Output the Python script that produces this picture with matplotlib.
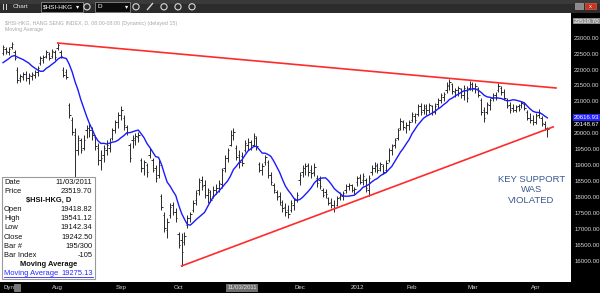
import matplotlib
matplotlib.use("Agg")
import matplotlib.pyplot as plt
import matplotlib.patches as mpatches
import matplotlib.transforms as mtransforms
import numpy as np

plt.rcParams["font.family"] = ["Liberation Sans", "DejaVu Sans"]

# ---- data: daily OHLC of $HSI-HKG (bar index 0 = first visible day) ----
warmup_closes = [21950, 22020, 22080, 22100, 22150, 22200, 22250, 22300, 22380]

highs = [22770, 22710, 22710, 22860, 22610, 22080, 21860, 21920, 21950, 21890,
         21920, 21990, 22110, 22420, 22460, 22610, 22550, 22640, 22610, 22830,
         22610, 22080, 22020, 20950, 20510, 20170, 19950, 19850, 19950, 20260,
         20290, 20200, 19950, 19700, 19480, 19630, 19790, 19850, 20170, 20420,
         20670, 20860, 20570, 20260, 19700, 19950, 20010, 20040, 19230, 19160,
         19070, 19540, 19230, 19010, 19160, 18100, 17530, 17350, 17820, 17850,
         17660, 16910, 16880, 16910, 17440, 17530, 17910, 18220, 18600, 18660,
         18540, 18290, 18220, 18350, 18410, 18540, 18910, 19320, 19540, 20100,
         20170, 19630, 19480, 19410, 19790, 19850, 19790, 20010, 19920, 19100,
         19070, 19320, 19160, 18790, 18440, 18220, 18160, 17910, 17820, 17750,
         17910, 17970, 18160, 18790, 19010, 19070, 19070, 19010, 19070, 18690,
         18660, 18290, 18250, 18000, 17970, 17910, 18040, 18160, 18190, 18410,
         18440, 18410, 18320, 18660, 18720, 18760, 18600, 18690, 19010, 19100,
         19070, 19100, 19040, 19160, 19540, 19670, 19850, 20170, 20480, 20420,
         20350, 20420, 20670, 20640, 20920, 20950, 20920, 20920, 20950, 20890,
         20950, 21110, 21260, 21300, 21610, 21700, 21580, 21420, 21480, 21420,
         21510, 21480, 21640, 21610, 21580, 21450, 21110, 20830, 20980, 21110,
         21260, 21300, 21580, 21480, 21390, 21110, 20980, 20920, 20890, 20920,
         21010, 20980, 20730, 20640, 20570, 20640, 20760, 20540, 20390, 20200]

lows = [22460, 22490, 22460, 22640, 22300, 21580, 21610, 21670, 21640, 21550,
        21670, 21730, 21800, 22140, 22200, 22360, 22300, 22360, 22300, 22610,
        22360, 21770, 21700, 20480, 19950, 18630, 19320, 19380, 19480, 19850,
        19880, 19790, 19480, 19010, 18850, 19100, 19320, 19410, 19790, 20010,
        20170, 20420, 20100, 19950, 19100, 19540, 19630, 19730, 18790, 18690,
        18630, 19230, 18790, 18470, 18600, 17600, 16910, 16720, 17350, 17440,
        17220, 16400, 15840, 16500, 17030, 17220, 17530, 17750, 18070, 18220,
        17970, 17820, 17850, 17970, 18100, 18160, 18290, 18790, 19100, 19600,
        19790, 19160, 18910, 18980, 19410, 19480, 19480, 19600, 19480, 18790,
        18690, 19010, 18600, 18380, 18130, 17910, 17750, 17530, 17410, 17350,
        17530, 17600, 17850, 18380, 18630, 18690, 18660, 18600, 18660, 18320,
        18250, 18000, 17970, 17750, 17660, 17530, 17720, 17910, 17910, 18130,
        18220, 18160, 18100, 18350, 18410, 18380, 18160, 18040, 18690, 18790,
        18760, 18820, 18720, 18790, 19100, 19320, 19540, 19790, 20100, 20100,
        20010, 20100, 20350, 20320, 20540, 20570, 20610, 20570, 20640, 20570,
        20610, 20790, 20950, 21010, 21260, 21360, 21230, 21140, 21170, 21110,
        21040, 20980, 21360, 21330, 21260, 21140, 20570, 20350, 20610, 20730,
        21010, 21040, 21300, 21200, 21040, 20790, 20640, 20670, 20670, 20700,
        20790, 20730, 20420, 20320, 20260, 20290, 20480, 20230, 20100, 19880]

opens = [22520, 22640, 22550, 22710, 22550, 21990, 21730, 21770, 21860, 21730,
         21800, 21830, 21920, 22200, 22300, 22420, 22490, 22420, 22550, 22670,
         22550, 21990, 21920, 20890, 20420, 19950, 19480, 19790, 19540, 20100,
         20170, 20100, 19880, 19540, 19160, 19320, 19480, 19540, 19850, 20100,
         20350, 20570, 20480, 20200, 19630, 19790, 19790, 19880, 19160, 18910,
         19010, 19320, 19160, 18910, 18690, 18040, 17440, 16970, 17440, 17750,
         17530, 16840, 16660, 16590, 17130, 17350, 17600, 17910, 18220, 18540,
         18380, 18070, 18160, 18040, 18220, 18290, 18410, 18910, 19230, 19630,
         19950, 19540, 19320, 19290, 19480, 19630, 19730, 19630, 19850, 19040,
         18850, 19100, 19100, 18690, 18380, 18160, 18040, 17750, 17690, 17600,
         17600, 17750, 17910, 18540, 18790, 18910, 19010, 18850, 18790, 18600,
         18540, 18220, 18160, 17970, 17850, 17750, 17750, 18000, 18040, 18220,
         18350, 18380, 18220, 18470, 18630, 18540, 18540, 18220, 18790, 18910,
         18980, 18910, 18980, 18850, 19160, 19480, 19630, 19850, 20170, 20350,
         20170, 20260, 20420, 20540, 20610, 20860, 20730, 20790, 20730, 20860,
         20670, 20920, 21040, 21140, 21360, 21480, 21550, 21300, 21360, 21390,
         21200, 21360, 21420, 21550, 21420, 21420, 21040, 20730, 20670, 20890,
         21110, 21200, 21360, 21420, 21300, 21040, 20890, 20790, 20730, 20860,
         20890, 20920, 20670, 20480, 20420, 20350, 20570, 20480, 20290, 20170]

closes = [22710, 22580, 22640, 22800, 22360, 21670, 21800, 21860, 21730, 21830,
          21860, 21920, 22050, 22360, 22390, 22550, 22360, 22580, 22390, 22770,
          22420, 21830, 21770, 20570, 20040, 19480, 19850, 19480, 19790, 20170,
          20100, 19950, 19600, 19160, 19230, 19540, 19630, 19730, 20100, 20350,
          20570, 20730, 20260, 20040, 19230, 19850, 19920, 19950, 18910, 19100,
          18790, 19480, 18850, 18600, 19010, 17690, 17030, 17220, 17690, 17530,
          17350, 16500, 16280, 16780, 17350, 17470, 17820, 18130, 18470, 18350,
          18070, 18220, 17910, 18220, 18290, 18440, 18850, 19230, 19480, 19950,
          20040, 19260, 19100, 19070, 19700, 19730, 19570, 19920, 19600, 18850,
          18980, 19260, 18690, 18470, 18220, 18000, 17850, 17660, 17530, 17470,
          17820, 17910, 18070, 18690, 18910, 18970, 18790, 18760, 18940, 18440,
          18350, 18070, 18100, 17820, 17750, 17660, 17970, 18070, 18130, 18350,
          18380, 18220, 18250, 18600, 18470, 18660, 18290, 18600, 18910, 19010,
          18850, 19040, 18790, 19070, 19480, 19600, 19790, 20100, 20390, 20200,
          20260, 20350, 20610, 20420, 20860, 20670, 20860, 20730, 20890, 20670,
          20860, 21040, 21200, 21230, 21510, 21610, 21330, 21360, 21420, 21200,
          21420, 21110, 21550, 21420, 21480, 21200, 20670, 20480, 20920, 21040,
          21200, 21140, 21480, 21300, 21110, 20860, 20730, 20730, 20830, 20760,
          20950, 20790, 20480, 20420, 20350, 20540, 20670, 20320, 20170, 20148.67]

ma_period = 10

month_labels = ["Aug", "Sep", "Oct", "Dec", "2012", "Feb", "Mar", "Apr"]
month_bars = [19, 41, 61, 103, 123, 142, 163, 185]

price_ticks = [16000, 16500, 17000, 17500, 18000, 18500, 19000, 19500, 20000,
               21000, 21500, 22000, 22500, 23000]

upper_trend_bars = [19, 192]
upper_trend_prices = [22830, 21420]
lower_trend_bars = [62, 191]
lower_trend_prices = [15840, 20200]

crosshair_bar = 83
crosshair_date = "11/03/2011"
crosshair_price = 23519.70
ma_value_label = "20616.93"

info_rows = [("Date", "11/03/2011"), ("Price", "23519.70"), ("$HSI-HKG, D", None),
             ("Open", "19418.82"), ("High", "19541.12"), ("Low", "19142.34"),
             ("Close", "19242.50"), ("Bar #", "195/300"), ("Bar Index", "-105"),
             ("Moving Average", None), ("Moving Average", "19275.13")]

# ---- derived ----
bars = np.arange(len(closes))
all_closes = np.array(warmup_closes + closes, dtype=float)
ma = np.convolve(all_closes, np.ones(ma_period) / ma_period, mode="valid")

W, H = 600, 293
fig = plt.figure(figsize=(W / 100, H / 100), dpi=100, facecolor="black")

ax = fig.add_axes([0, 1 - 282 / H, 571 / W, 269.5 / H])
ax.set_facecolor("white")
ax.set_xlim(-1.04, 197.2)
ax.set_ylim(15338, 23787)
for s in ax.spines.values():
    s.set_visible(False)

bar_col = "#2a2a2a"
ax.vlines(bars, lows, highs, color=bar_col, lw=0.7)
ax.hlines(opens, bars - 0.5, bars, color=bar_col, lw=0.7)
ax.hlines(closes, bars, bars + 0.5, color=bar_col, lw=0.7)

ax.plot(bars, ma, color="#1a1aff", lw=1.0)
ax.plot(upper_trend_bars, upper_trend_prices, color="#ff2a2a", lw=1.2)
ax.plot(lower_trend_bars, lower_trend_prices, color="#ff2a2a", lw=1.2)

# right price axis
ax.yaxis.tick_right()
ax.set_yticks(price_ticks, [f"{v:.2f}" for v in price_ticks])
ax.tick_params(axis="y", length=0, pad=2.3, labelsize=4.4, labelcolor="#d6d6d6")
ax.set_xticks(month_bars, month_labels)
ax.tick_params(axis="x", length=0, pad=2.0, labelsize=4.4, labelcolor="#d6d6d6")

ytrans = mtransforms.blended_transform_factory(ax.transAxes, ax.transData)
ax.annotate(f"{crosshair_price:.2f}", xy=(1, crosshair_price), xycoords=ytrans,
            xytext=(2.3, 0), textcoords="offset points", fontsize=4.4, color="white",
            va="center", ha="left", annotation_clip=False,
            bbox=dict(boxstyle="square,pad=0.15", fc="#8c8c8c", ec="none"))
ax.annotate(ma_value_label, xy=(1, ma[-1]), xycoords=ytrans,
            xytext=(2.3, 0), textcoords="offset points", fontsize=4.4, color="white",
            va="center", ha="left", annotation_clip=False,
            bbox=dict(boxstyle="square,pad=0.15", fc="#2323ff", ec="none"))
ax.annotate(f"{closes[-1]:.2f}", xy=(1, closes[-1]), xycoords=ytrans,
            xytext=(2.3, 3), textcoords="offset points", fontsize=4.4, color="white",
            va="center", ha="left", annotation_clip=False)

xtrans = mtransforms.blended_transform_factory(ax.transData, ax.transAxes)
ax.annotate(crosshair_date, xy=(crosshair_bar, 0), xycoords=xtrans,
            xytext=(0, -4.3), textcoords="offset points", fontsize=4.4, color="#e8e8e8",
            va="center", ha="center", annotation_clip=False,
            bbox=dict(boxstyle="square,pad=0.25", fc="#6e6e6e", ec="none"))

# ---- window chrome, drawn in pixel space ----
ov = fig.add_axes([0, 0, 1, 1], zorder=10)
ov.set_xlim(0, W)
ov.set_ylim(H, 0)
ov.axis("off")
ov.patch.set_alpha(0)

ov.add_patch(mpatches.Rectangle((0, 0), W, 13, fc="#2c2c2c", ec="none"))
ov.add_patch(mpatches.Rectangle((0, 0), W, 4, fc="#3a3a3a", ec="none"))
ov.add_patch(mpatches.Rectangle((3, 3.5), 1.2, 6, fc="#cfcfcf", ec="none"))
ov.add_patch(mpatches.Rectangle((5.5, 3.5), 1.2, 6, fc="#cfcfcf", ec="none"))
ov.text(13, 6.8, "Chart", fontsize=4.6, color="#e6e6e6", va="center")
ov.add_patch(mpatches.Rectangle((41, 2), 42, 9.5, fc="#0c0c0c", ec="#8a8a8a", lw=0.6))
ov.text(43, 6.9, "$HSI-HKG", fontsize=4.6, color="white", va="center")
ov.text(76, 6.9, "\u25be", fontsize=4.5, color="white", va="center")
ov.add_patch(mpatches.Rectangle((95, 2), 35, 9.5, fc="#0c0c0c", ec="#8a8a8a", lw=0.6))
ov.text(97, 6.9, "D", fontsize=4.6, color="white", va="center")
ov.text(125, 6.9, "\u25be", fontsize=4.5, color="white", va="center")
for cx in (87, 136, 164, 178, 192):
    ov.add_patch(mpatches.Circle((cx, 6.8), 3.1, fill=False, ec="#d8d8d8", lw=0.8))
ov.plot([147.5, 152.5], [9.5, 3.5], color="#d8d8d8", lw=1.0)
ov.add_patch(mpatches.Rectangle((575, 3), 8, 6, fc="#8a8a8a", ec="#bbbbbb", lw=0.4))
ov.add_patch(mpatches.Rectangle((585, 3), 11, 6, fc="#c8321e", ec="#e07060", lw=0.4))
ov.text(590.5, 6, "x", fontsize=4.2, color="white", ha="center", va="center")

ov.text(5, 23.2, "$HSI-HKG, HANG SENG INDEX, D, 08:00-08:00 (Dynamic) (delayed 15)",
        fontsize=3.8, color="#a8a8a8", va="center")
ov.text(5, 29.4, "Moving Average", fontsize=3.8, color="#a8a8a8", va="center")

ov.text(531.5, 190, "KEY SUPPORT\nWAS\nVIOLATED", fontsize=6.8, color="#3a5890",
        ha="center", va="center", linespacing=1.27)

# info panel
ov.add_patch(mpatches.Rectangle((2, 177), 93, 101.5, fc="white", ec="#9a9a9a", lw=0.8))
row_y = 182.5
for label, value in info_rows:
    if value is None:
        ov.text(48.5, row_y, label, fontsize=5.4, fontweight="bold", color="#111111",
                ha="center", va="center")
    elif label == "Moving Average" and value == "19275.13":
        ov.text(4, row_y, label, fontsize=5.4, color="#2a2aff", va="center")
        ov.text(92.5, row_y, value, fontsize=5.4, color="#2a2aff", va="center", ha="right")
        ov.plot([4, 92.5], [row_y + 3.2, row_y + 3.2], color="#2a2aff", lw=0.6)
    else:
        ov.text(4, row_y, label, fontsize=5.4, color="#111111", va="center")
        ov.text(92.5, row_y, value, fontsize=5.4, color="#111111", va="center", ha="right")
    row_y += 9.1

ov.text(3, 287.5, "Dyn", fontsize=4.4, color="#e0e0e0", va="center")
ov.add_patch(mpatches.Rectangle((13.5, 284), 6.5, 7, fc="#777777", ec="#aaaaaa", lw=0.4))

fig.savefig("out.png", dpi=100, facecolor=fig.get_facecolor())
